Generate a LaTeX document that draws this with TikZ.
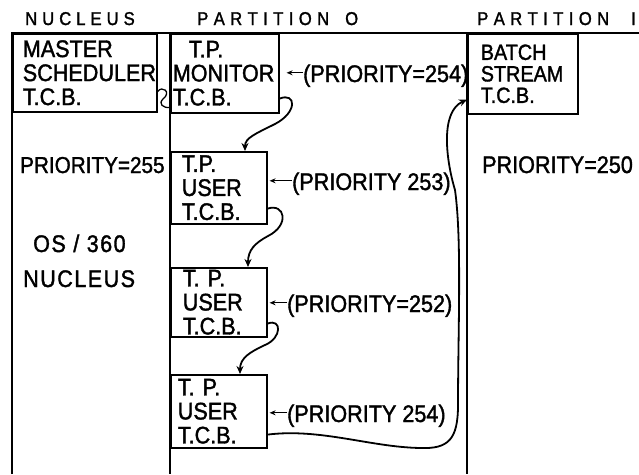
\documentclass[tikz,border=0pt]{standalone}
\usepackage{fontspec}
\setmainfont{Liberation Sans}[FakeStretch=0.9,FakeBold=1.5]
\newfontfamily\spfont{Liberation Sans}[FakeStretch=0.9,FakeBold=1.5,LetterSpace=6]
\usetikzlibrary{arrows.meta}
\newcommand\hk{\kern5pt}
\newcommand\pk{\kern5.4pt}
\tikzset{
  x=1pt,y=-1pt,
  frame/.style={line width=1.6pt},
  tcb/.style={draw,line width=1.6pt,rectangle,anchor=north west,inner sep=0pt,
    align=left,font=\fontsize{24}{24}\selectfont},
  txt/.style={anchor=base west,inner sep=0pt,font=\fontsize{24}{24}\selectfont},
  hdr/.style={anchor=base west,inner sep=0pt,font=\fontsize{18.5}{18.5}\selectfont},
  link/.style={line width=1.8pt,-{Stealth[length=8pt,width=7pt]}},
  tag/.style={line width=1.3pt,-{Stealth[length=6pt,width=5pt]}},
}
\begin{document}
\begin{tikzpicture}
\fill[white] (0,0) rectangle (639,474);
\useasboundingbox (0,0) rectangle (639,474);

% headers
\node[hdr] (hn) at (25,25) {N\hk U\hk C\hk L\hk E\hk U\hk S};
\node[hdr] (h0) at (197,25) {P\pk A\pk R\pk T\pk I\pk T\pk I\pk O\pk N\kern16pt O};
\node[hdr] (h1) at (477,25) {P\pk A\pk R\pk T\pk I\pk T\pk I\pk O\pk N\kern22pt I};

% frame lines
\draw[frame] (12,474) -- (12,33) -- (639,33);
\draw[frame] (170,33) -- (170,474);
\draw[frame] (467,33) -- (467,474);

% TCB boxes
\node[tcb,text width=144pt,minimum height=78pt] (ms) at (12,33)
  {\hspace*{10pt}MASTER\\\hspace*{10pt}SCHEDULER\\\hspace*{10pt}T.C.B.};
\node[tcb,text width=108pt,minimum height=79pt] (mon) at (170,33)
  {\hspace*{18pt}T.P.\\\hspace*{2pt}MONITOR\\\hspace*{2pt}T.C.B.};
\node[tcb,text width=110pt,minimum height=80pt,font=\fontsize{22}{21.5}\selectfont] (bs) at (467,33)
  {\hspace*{13pt}BATCH\\\hspace*{13pt}STREAM\\\hspace*{13pt}T.C.B.};
\node[tcb,text width=96pt,minimum height=72pt] (u1) at (170,151)
  {\hspace*{11pt}T.P.\\\hspace*{11pt}USER\\\hspace*{11pt}T.C.B.};
\node[tcb,text width=96pt,minimum height=69pt] (u2) at (170,267)
  {\hspace*{12pt}T. P.\\\hspace*{12pt}USER\\\hspace*{12pt}T.C.B.};
\node[tcb,text width=96pt,minimum height=73pt] (u3) at (170,374)
  {\hspace*{7pt}T. P.\\\hspace*{7pt}USER\\\hspace*{7pt}T.C.B.};

% free texts
\node[txt,font=\fontsize{23}{23}\selectfont] (pn) at (20,173) {PRIORITY=255};
\node[txt,font=\spfont\fontsize{24}{24}\selectfont] (os) at (33,252) {OS / 360};
\node[txt,font=\spfont\fontsize{24}{24}\selectfont] (nu) at (23,287) {NUCLEUS};
\node[txt] (pb) at (482,173) {PRIORITY=250};

% priority tags
\node[txt] (p0) at (303,82) {(PRIORITY=254)};
\node[txt] (p1) at (292,190) {(PRIORITY 253)};
\node[txt] (p2) at (287,312) {(PRIORITY=252)};
\node[txt] (p3) at (287,422) {(PRIORITY 254)};
\coordinate (p0a) at ([yshift=3pt]p0.west);
\coordinate (p1a) at ([yshift=3pt]p1.west);
\coordinate (p2a) at ([yshift=3pt]p2.west);
\coordinate (p3a) at ([yshift=3pt]p3.west);
\draw[tag,shorten >=7pt] (p0a) -- (p0a -| mon.east);
\draw[tag,shorten >=2pt] (p1a) -- (p1a -| u1.east);
\draw[tag,shorten >=2pt] (p2a) -- (p2a -| u2.east);
\draw[tag,shorten >=2pt] (p3a) -- (p3a -| u3.east);

% chain connectors
\draw[line width=1.3pt] ([yshift=21pt]ms.south east) .. controls (162,85) and (172,92) .. (163,99)
  .. controls (158,104) and (163,108) .. ([yshift=6pt]mon.south west);
\draw[link] ([yshift=15pt]mon.south east) .. controls (296,92) and (298,112) .. (275,124)
  .. controls (255,134) and (245,138) .. ([xshift=75pt]u1.north west);
\draw[link] ([yshift=16pt]u1.south east) .. controls (285,203) and (290,225) .. (268,236)
  .. controls (255,243) and (248,250) .. ([xshift=78pt]u2.north west);
\draw[link] ([yshift=14pt]u2.south east) .. controls (282,318) and (282,338) .. (265,345)
  .. controls (250,352) and (240,358) .. ([xshift=70pt]u3.north west);
\draw[link] ([yshift=14pt]u3.south east) .. controls (320,428) and (370,447) .. (420,448)
  .. controls (448,449) and (458,440) .. (458,405)
  .. controls (458,330) and (462,240) .. (455,190)
  .. controls (446,160) and (440,112) .. ([yshift=15pt]bs.south west);
\end{tikzpicture}
\end{document}
